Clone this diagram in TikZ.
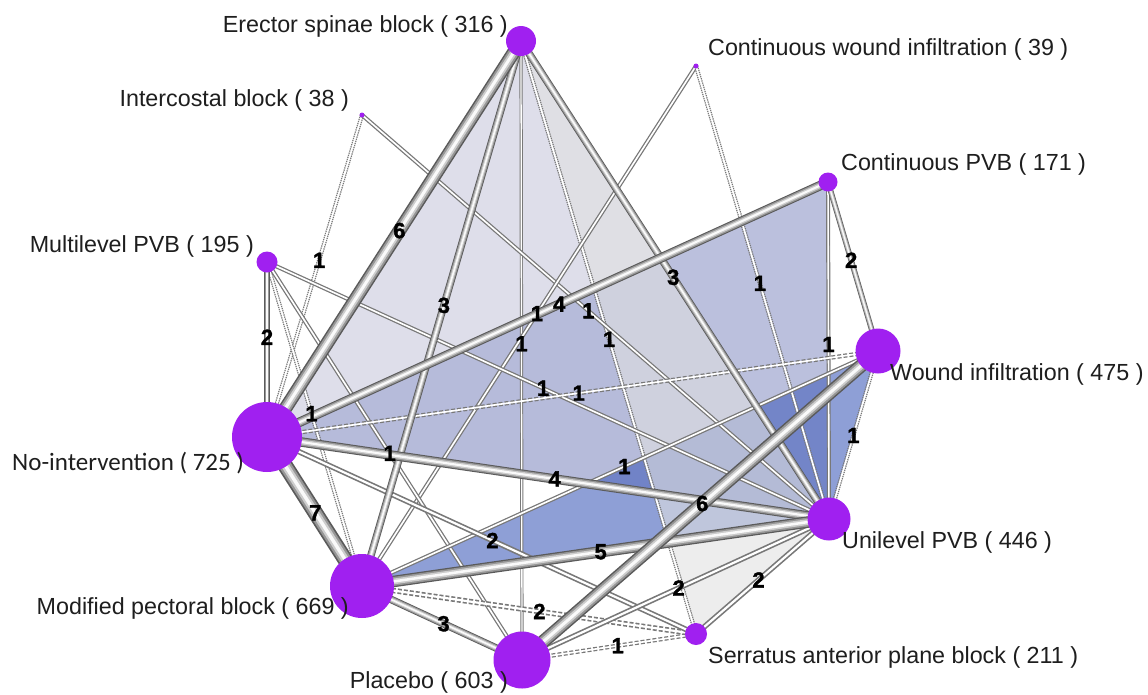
\documentclass[tikz,border=0pt]{standalone}
\usepackage{fontspec}
\setmainfont{Liberation Sans}
\newfontfamily\carl{Carlito}
\newfontfamily\cntfont[FakeBold=1.5]{Liberation Sans Bold}
\usetikzlibrary{backgrounds}
\definecolor{ndpurple}{RGB}{160,32,240}
\definecolor{polyA}{RGB}{200,200,220}
\definecolor{polyB}{RGB}{176,181,216}
\definecolor{polyC}{RGB}{67,95,187}
\definecolor{polyD}{RGB}{225,225,225}
\definecolor{tubeI}{RGB}{90,90,90}
\definecolor{tubeII}{RGB}{150,150,150}
\definecolor{tubeIII}{RGB}{205,205,205}
\definecolor{tubeIV}{RGB}{250,250,250}
\definecolor{thinout}{RGB}{120,120,120}
\definecolor{lbltext}{RGB}{30,30,30}
\tikzset{
  nd/.style={circle, fill=ndpurple, draw=none, inner sep=0pt, minimum size=#1},
  lbl/.style={font=\fontsize{23.3}{26}\selectfont, text=lbltext, inner sep=0pt},
  cnt/.style={font=\cntfont\fontsize{22}{24}\selectfont, text=black, inner sep=0pt},
  polyfill/.style={fill=#1, fill opacity=0.6},
  dashline/.style={dash pattern=on 4pt off 2pt},
  dotline/.style={dash pattern=on 1.3pt off 0.9pt},
}
\newcommand{\tubeedge}[3]{%
  \draw[line width=#3pt, tubeI] (#1.center) -- (#2.center);
  \draw[line width=#3*0.78pt, tubeII] (#1.center) -- (#2.center);
  \draw[line width=#3*0.5pt, tubeIII] (#1.center) -- (#2.center);
  \draw[line width=#3*0.22pt, tubeIV] (#1.center) -- (#2.center);
}
\newcommand{\dbledge}[4]{%
  \draw[line width=#4pt, thinout, #1] (#2.center) -- (#3.center);
  \draw[line width=#4*0.4pt, white] (#2.center) -- (#3.center);
}
\begin{document}
\begin{tikzpicture}[x=1pt,y=-1pt]
\useasboundingbox (0,0) rectangle (1148,694);

% nodes
\node[nd=30] (esb) at (521,41) {};
\node[nd=5] (icb) at (362,115) {};
\node[nd=5] (cwi) at (696,66) {};
\node[nd=19] (cpvb) at (828,182) {};
\node[nd=21] (mpvb) at (267,262) {};
\node[nd=45] (wi) at (878,351) {};
\node[nd=70] (ni) at (267,437) {};
\node[nd=43] (upvb) at (829,519) {};
\node[nd=64] (mpb) at (362,586) {};
\node[nd=22] (sapb) at (696,634) {};
\node[nd=57] (pl) at (522,660) {};

\begin{scope}[on background layer]
  \fill[white] (0,0) rectangle (1148,694);
  % shaded multi-arm regions
  \fill[polyfill=polyA] (esb.center) -- (ni.center) -- (upvb.center) -- cycle;
  \fill[polyB, fill opacity=0.85] (cpvb.center) -- (ni.center) -- (upvb.center) -- cycle;
  \fill[polyfill=polyC] (mpb.center) -- (wi.center) -- (upvb.center) -- cycle;
  \fill[polyfill=polyD] (esb.center) -- (sapb.center) -- (upvb.center) -- cycle;
  % thin (single study) edges
  \dbledge{}{esb}{pl}{3.2}
  \dbledge{dotline}{esb}{sapb}{4.2}
  \dbledge{dotline}{icb}{ni}{4.2}
  \dbledge{}{icb}{upvb}{4.2}
  \dbledge{}{cwi}{mpb}{4.2}
  \dbledge{dotline}{cwi}{upvb}{4.2}
  \dbledge{}{cpvb}{upvb}{4}
  \dbledge{dotline}{mpvb}{mpb}{4.2}
  \dbledge{}{mpvb}{pl}{4.2}
  \dbledge{}{mpvb}{upvb}{4.2}
  \dbledge{dashline}{ni}{wi}{4.2}
  \dbledge{}{mpb}{wi}{4.2}
  \dbledge{dashline}{pl}{sapb}{4.2}
  \dbledge{dotline}{wi}{upvb}{4.2}
  \dbledge{dashline}{mpb}{sapb}{5.5}
  \dbledge{}{ni}{sapb}{5.5}
  \dbledge{}{pl}{upvb}{5.5}
  \dbledge{}{sapb}{upvb}{5.5}
  % tube edges
  \tubeedge{cpvb}{wi}{5.5}
  \tubeedge{mpvb}{ni}{5.5}
  \tubeedge{esb}{mpb}{7.5}
  \tubeedge{esb}{upvb}{7.5}
  \tubeedge{mpb}{pl}{7.5}
  \tubeedge{cpvb}{ni}{9.5}
  \tubeedge{ni}{upvb}{9.5}
  \tubeedge{mpb}{upvb}{11.5}
  \tubeedge{esb}{ni}{13.5}
  \tubeedge{pl}{wi}{13.5}
  \tubeedge{ni}{mpb}{15.5}
\end{scope}

% edge counts
\path (esb) -- (ni) node[cnt, midway] (c1) {6};
\path (esb) -- (mpb) node[cnt, midway] (c2) {3};
\path (esb) -- (pl) node[cnt, midway] (c3) {1};
\path (esb) -- (upvb) node[cnt, midway] (c4) {3};
\path (esb) -- (sapb) node[cnt, midway] (c5) {1};
\path (icb) -- (ni) node[cnt, midway] (c6) {1};
\path (icb) -- (upvb) node[cnt, midway] (c7) {1};
\path (cwi) -- (mpb) node[cnt, midway] (c8) {1};
\path (cwi) -- (upvb) node[cnt, midway] (c9) {1};
\path (cpvb) -- (ni) node[cnt, midway] (c10) {4};
\path (cpvb) -- (wi) node[cnt, midway] (c11) {2};
\path (cpvb) -- (upvb) node[cnt, midway] (c12) {1};
\path (mpvb) -- (ni) node[cnt, midway] (c13) {2};
\path (mpvb) -- (mpb) node[cnt, midway] (c14) {1};
\path (mpvb) -- (pl) node[cnt, midway] (c15) {1};
\path (mpvb) -- (upvb) node[cnt, midway] (c16) {1};
\path (ni) -- (wi) node[cnt, midway] (c17) {1};
\path (ni) -- (upvb) node[cnt, midway] (c18) {4};
\path (ni) -- (mpb) node[cnt, midway] (c19) {7};
\path (ni) -- (sapb) node[cnt, midway] (c20) {2};
\path (mpb) -- (wi) node[cnt, midway] (c21) {1};
\path (mpb) -- (upvb) node[cnt, midway] (c22) {5};
\path (mpb) -- (sapb) node[cnt, midway] (c23) {2};
\path (mpb) -- (pl) node[cnt, midway] (c24) {3};
\path (pl) -- (wi) node[cnt, midway] (c25) {6};
\path (pl) -- (upvb) node[cnt, midway] (c26) {2};
\path (pl) -- (sapb) node[cnt, midway] (c27) {1};
\path (sapb) -- (upvb) node[cnt, midway] (c28) {2};
\path (wi) -- (upvb) node[cnt, midway] (c29) {1};

% node labels
\node[lbl, anchor=base east] (lesb) at (508,32) {Erector spinae block ( 316 )};
\node[lbl, anchor=base west] (lcwi) at (708,55) {Continuous wound infiltration ( 39 )};
\node[lbl, anchor=base east] (licb) at (349,106) {Intercostal block ( 38 )};
\node[lbl, anchor=base west] (lcpvb) at (841,170) {Continuous PVB ( 171 )};
\node[lbl, anchor=base east] (lmpvb) at (254,252) {Multilevel PVB ( 195 )};
\node[lbl, anchor=base west] (lwi) at (890,380) {Wound infiltration ( 475 )};
\node[lbl, anchor=base west, font=\carl\fontsize{25}{28}\selectfont] (lni) at (12,470) {No-intervention ( 725 )};
\node[lbl, anchor=base west] (lupvb) at (842,548) {Unilevel PVB ( 446 )};
\node[lbl, anchor=base east] (lmpb) at (349,614) {Modified pectoral block ( 669 )};
\node[lbl, anchor=base west] (lsapb) at (708,663) {Serratus anterior plane block ( 211 )};
\node[lbl, anchor=base east] (lpl) at (508,688) {Placebo ( 603 )};
\end{tikzpicture}
\end{document}
